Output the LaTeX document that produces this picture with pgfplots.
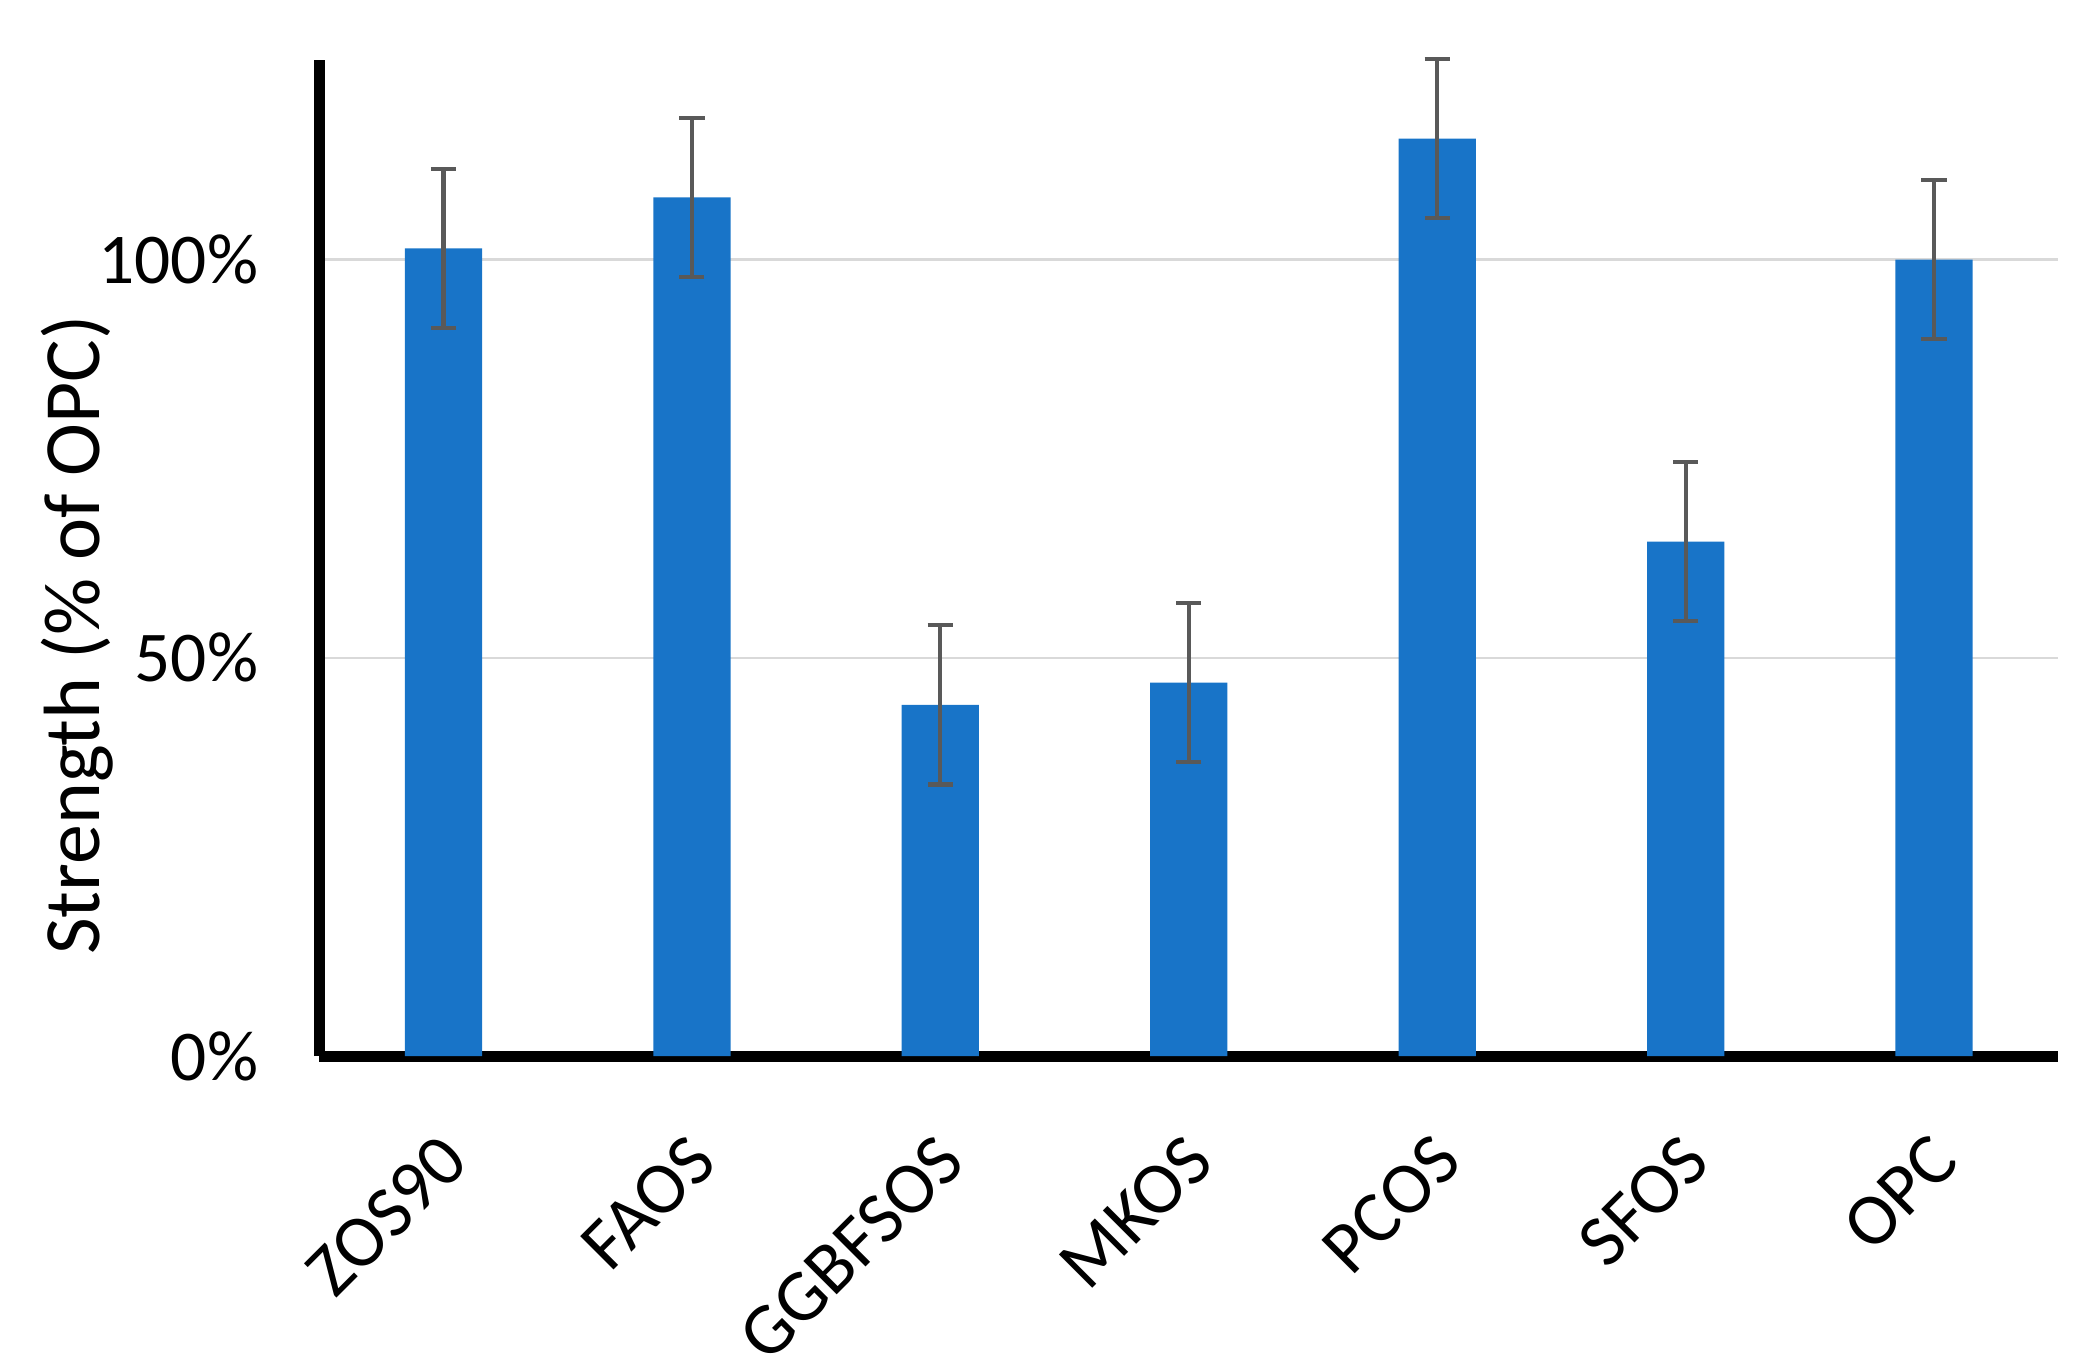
\documentclass[border=0pt]{standalone}
\usepackage{pgfplots}
\pgfplotsset{compat=1.18}
\usepackage{pgfplotstable}
\usepackage{fontspec}
\setmainfont{Carlito}
\usetikzlibrary{calc}

\definecolor{barblue}{RGB}{24,116,200}
\definecolor{errgray}{RGB}{89,89,89}
\definecolor{gridgray}{RGB}{217,217,217}

% strength relative to OPC, with +/- error
\pgfplotstableread{
x   y      err
0   101.4  10
1   107.8  10
2   44.1   10
3   46.9   10
4   115.2  10
5   64.6   10
6   100.0  10
}\strength

\begin{document}
\begin{tikzpicture}
\begin{axis}[
    scale only axis,
    width=414pt, height=237pt,
    xmin=-0.5, xmax=6.5,
    ymin=0, ymax=125,
    axis lines*=left,
    axis line style={line width=2.6pt, black},
    clip=false,
    ybar,
    bar width=18.4pt,
    xtick=data,
    xticklabels={ZOS90,FAOS,GGBFSOS,MKOS,PCOS,SFOS,OPC},
    xticklabel style={xshift=5pt, yshift=-19.5pt, rotate=45, anchor=east,
        font=\fontsize{17.5}{20}\selectfont},
    ytick={0,50,100},
    yticklabels={0\%,50\%,100\%},
    yticklabel style={font=\fontsize{17}{19}\selectfont, xshift=-11pt},
    major tick length=0pt,
    ymajorgrids,
    grid style={gridgray, line width=0.6pt},
    ylabel={Strength (\% of OPC)},
    every axis y label/.style={at={(axis description cs:-0.139,0.423)}, rotate=90,
        anchor=center, font=\fontsize{19}{21}\selectfont},
]
\addplot[fill=barblue, draw=none,
    error bars/.cd, y dir=both, y explicit,
    error bar style={line width=1pt, errgray},
    error mark options={rotate=90, mark size=3pt, line width=1pt, errgray}]
    table[x=x, y=y, y error=err] {\strength};
\end{axis}
\pgfresetboundingbox
\path ($(current axis.south west)+(-76pt,-73pt)$) rectangle ($(current axis.north east)+(8.5pt,14.4pt)$);
\end{tikzpicture}
\end{document}
